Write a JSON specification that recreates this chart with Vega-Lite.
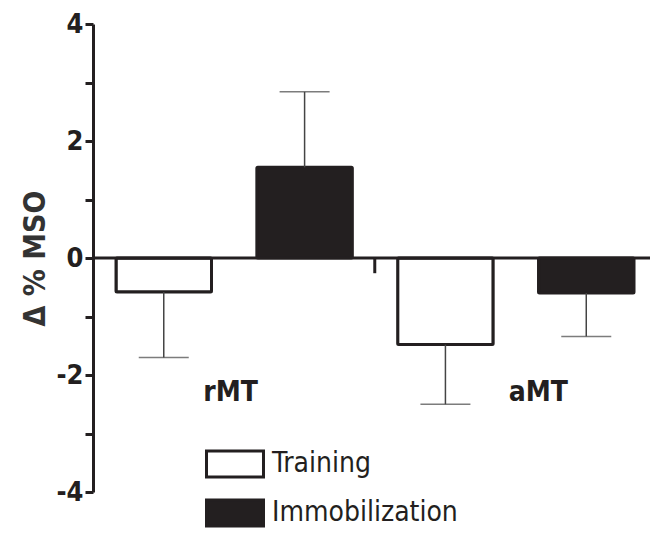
{
  "$schema": "https://vega.github.io/schema/vega-lite/v6.json",
  "width": 557,
  "height": 468,
  "autosize": "none",
  "padding": {"left": 93, "top": 24, "right": 0, "bottom": 43},
  "background": "white",
  "config": {"view": {"stroke": null}, "font": "Liberation Sans"},
  "datasets": {
    "bars": [
      {"bar": "T-rMT", "series": "Training", "value": -0.58, "err": -1.70},
      {"bar": "I-rMT", "series": "Immobilization", "value": 1.55, "err": 2.84},
      {"bar": "T-aMT", "series": "Training", "value": -1.48, "err": -2.50},
      {"bar": "I-aMT", "series": "Immobilization", "value": -0.60, "err": -1.34}
    ],
    "labels": [
      {"label": "rMT", "bar": "I-rMT", "y": -2.3},
      {"label": "aMT", "bar": "I-aMT", "y": -2.3}
    ],
    "zero": [{"bar": "T-aMT", "y": 0, "y2": -0.26}]
  },
  "layer": [
    {
      "data": {"name": "bars"},
      "mark": {"type": "bar", "stroke": "#231f20", "strokeWidth": 3, "cornerRadius": 1},
      "encoding": {
        "x": {"field": "bar", "type": "nominal",
              "scale": {"domain": ["T-rMT", "I-rMT", "T-aMT", "I-aMT"], "paddingInner": 0.322, "paddingOuter": 0.1385, "align": 0.59}, "axis": null},
        "y": {"field": "value", "type": "quantitative",
              "scale": {"domain": [-4, 4], "nice": false, "zero": true},
              "axis": {
                "values": [-4, -3.5, -3, -2.5, -2, -1.5, -1, -0.5, 0, 0.5, 1, 1.5, 2, 2.5, 3, 3.5, 4],
                "labelExpr": "datum.value % 2 == 0 ? '' + datum.value : ''",
                "title": "Δ % MSO", "titleFontSize": 30, "titleFontWeight": "bold", "titleColor": "#333333",
                "titleFont": "DejaVu Sans Condensed", "titlePadding": 6,
                "labelFontSize": 27, "labelFontWeight": "bold", "labelColor": "#231f20", "labelPadding": 2,
                "labelFont": "DejaVu Sans Condensed",
                "domainColor": "#231f20", "domainWidth": 3, "tickColor": "#231f20", "tickWidth": 3, "tickSize": 8,
                "grid": false
              }},
        "color": {"field": "series", "type": "nominal",
                  "scale": {"domain": ["Training", "Immobilization"], "range": ["#ffffff", "#231f20"]},
                  "legend": {"orient": "none", "legendX": 126, "legendY": 424, "title": null, "padding": 0,
                             "symbolType": "M-2,-0.92H2V0.92H-2Z", "symbolSize": 812,
                             "symbolStrokeColor": "#231f20", "symbolStrokeWidth": 3, "symbolOpacity": 1,
                             "labelFontSize": 28, "labelFont": "DejaVu Sans Condensed", "labelColor": "#231f20", "labelOffset": 21,
                             "rowPadding": 9, "labelLimit": 0}}
      }
    },
    {
      "data": {"name": "bars"},
      "mark": {"type": "rule", "color": "#444444", "strokeWidth": 1.5},
      "encoding": {
        "x": {"field": "bar", "type": "nominal"},
        "y": {"field": "value", "type": "quantitative"},
        "y2": {"field": "err"}
      }
    },
    {
      "data": {"name": "bars"},
      "mark": {"type": "tick", "color": "#444444", "thickness": 1.5, "size": 50, "orient": "horizontal"},
      "encoding": {
        "x": {"field": "bar", "type": "nominal"},
        "y": {"field": "err", "type": "quantitative"}
      }
    },
    {
      "data": {"name": "zero"},
      "mark": {"type": "rule", "color": "#231f20", "strokeWidth": 3},
      "encoding": {"y": {"field": "y", "type": "quantitative"}}
    },
    {
      "data": {"name": "zero"},
      "mark": {"type": "rule", "color": "#231f20", "strokeWidth": 3},
      "encoding": {
        "x": {"field": "bar", "type": "nominal", "bandPosition": -0.24},
        "y": {"field": "y", "type": "quantitative"},
        "y2": {"field": "y2"}
      }
    },
    {
      "data": {"name": "labels"},
      "transform": [{"filter": "datum.label == 'rMT'"}],
      "mark": {"type": "text", "fontSize": 28, "fontWeight": "bold", "font": "DejaVu Sans Condensed", "color": "#231f20", "dx": -74, "baseline": "middle"},
      "encoding": {
        "x": {"field": "bar", "type": "nominal"},
        "y": {"field": "y", "type": "quantitative"},
        "text": {"field": "label"}
      }
    },
    {
      "data": {"name": "labels"},
      "transform": [{"filter": "datum.label == 'aMT'"}],
      "mark": {"type": "text", "fontSize": 28, "fontWeight": "bold", "font": "DejaVu Sans Condensed", "color": "#231f20", "dx": -48, "baseline": "middle"},
      "encoding": {
        "x": {"field": "bar", "type": "nominal"},
        "y": {"field": "y", "type": "quantitative"},
        "text": {"field": "label"}
      }
    }
  ]
}
